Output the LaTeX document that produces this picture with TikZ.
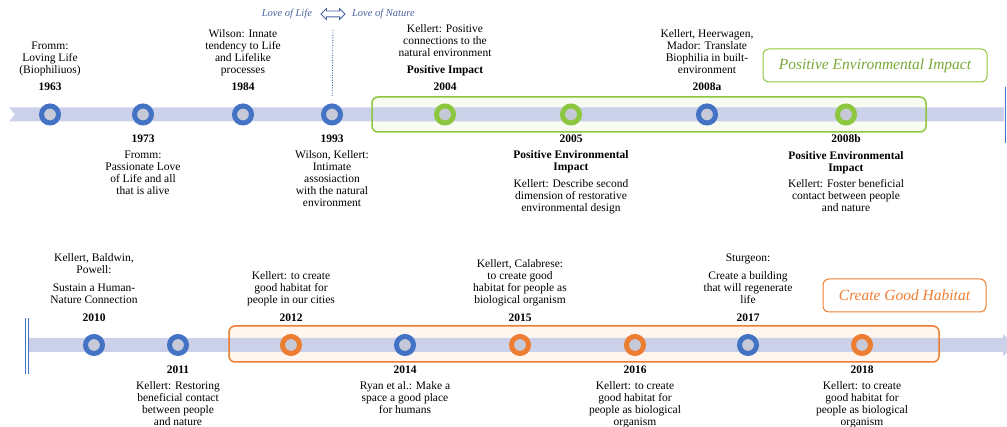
\documentclass[tikz,border=0pt]{standalone}
\usepackage{fontspec}
\setmainfont{Liberation Serif}
\usetikzlibrary{positioning,shapes.arrows}
\definecolor{bandcol}{RGB}{203,209,233}
\definecolor{ringblue}{RGB}{68,114,196}
\definecolor{ringgreen}{RGB}{141,198,63}
\definecolor{ringorange}{RGB}{237,125,49}
\definecolor{ringfill}{RGB}{197,201,216}
\definecolor{lovecol}{RGB}{72,98,160}
\definecolor{greenfill}{RGB}{247,251,242}
\definecolor{orangefill}{RGB}{254,246,239}
\newcommand{\notefont}{\fontsize{11.5}{12}\selectfont}
\tikzset{
  every picture/.style={
    line width=1pt
  },
  band/.style={fill=bandcol, draw=none},
  ring/.style={circle, draw=ringblue, line width=5pt, fill=ringfill, minimum size=17pt, inner sep=0pt},
  greenring/.style={ring, draw=ringgreen},
  orangering/.style={ring, draw=ringorange},
  year/.style={font=\notefont\bfseries, inner sep=0pt},
  note/.style={align=center, font=\notefont, inner sep=0pt, text depth=2.5pt},
  heading/.style={note, font=\notefont\bfseries},
  greenbox/.style={draw=ringgreen, line width=1.5pt, rounded corners=6pt},
  orangebox/.style={draw=ringorange, line width=1.5pt, rounded corners=6pt},
  legend/.style={draw, rounded corners=6pt, line width=1pt, inner sep=0pt, font=\fontsize{15.5}{18}\selectfont\itshape},
  lovetext/.style={text=lovecol, inner sep=0pt, font=\fontsize{10.5}{12}\selectfont\itshape},
  lovearrow/.style={double arrow, draw=lovecol, fill=white, line width=0.8pt, minimum height=24pt, minimum width=10pt, double arrow head extend=2.5pt, inner sep=2.5pt}
}
\begin{document}
\begin{tikzpicture}[x=1pt, y=1pt]
  \clip (0,0) rectangle (1007,427);
  % highlighted periods
  \fill[greenfill, rounded corners=6pt] (372,295) rectangle (926,330);
  \fill[orangefill, rounded corners=6pt] (229,65) rectangle (939,101);
  % time lines
  \fill[band] (9,319.5) -- (1004,319.5) -- (1004,305.5) -- (9,305.5) -- (15,312.5) -- cycle;
  \fill[band] (28,89) -- (1003,89) -- (1003,93) -- (1016,82) -- (1003,71) -- (1003,75) -- (28,75) -- cycle;
  \draw[ringblue] (1005,284) -- (1005,340);
  \draw[ringblue] (25,53) -- (25,109);
  \draw[ringblue] (28.5,53) -- (28.5,109);
  \draw[greenbox] (372,295) rectangle (926,330);
  \draw[orangebox] (229,65) rectangle (939,101);

  \node[legend, draw=ringgreen, text=ringgreen!85!black, minimum width=224pt, minimum height=33pt] (poslegend) at (875,361.5) {Positive Environmental Impact};
  \node[legend, draw=ringorange, text=ringorange, minimum width=163pt, minimum height=33pt] (habitatlegend) at (904.5,131.5) {Create Good Habitat};

  % first row
  \node[ring] (c1963) at (50,312.5) {};
  \node[ring] (c1973) at (143,312.5) {};
  \node[ring] (c1984) at (243,312.5) {};
  \node[ring] (c1993) at (332,312.5) {};
  \node[greenring] (c2004) at (445,312.5) {};
  \node[greenring] (c2005) at (571,312.5) {};
  \node[ring] (c2008a) at (707,312.5) {};
  \node[greenring] (c2008b) at (846,312.5) {};

  \node[year, above=12pt of c1963] (y1963) {1963};
  \node[note, above=6.5pt of y1963] (n1963) {Fromm:\\ Loving Life\\ (Biophiliuos)};
  \node[year, below=9pt of c1973] (y1973) {1973};
  \node[note, below=7pt of y1973] (n1973) {Fromm:\\ Passionate Love\\ of Life and all\\ that is alive};
  \node[year, above=12pt of c1984] (y1984) {1984};
  \node[note, above=6.5pt of y1984] (n1984) {Wilson: Innate\\ tendency to Life\\ and Lifelike\\ processes};
  \node[year, below=9pt of c1993] (y1993) {1993};
  \node[note, below=7pt of y1993] (n1993) {Wilson, Kellert:\\ Intimate\\ assosiaction\\ with the natural\\ environment};
  \node[year, above=12pt of c2004] (y2004) {2004};
  \node[heading, above=6.5pt of y2004] (h2004) {Positive Impact};
  \node[note, above=5.5pt of h2004] (n2004) {Kellert: Positive\\ connections to the\\ natural environment};
  \node[year, below=9pt of c2005] (y2005) {2005};
  \node[heading, below=7pt of y2005] (h2005) {Positive Environmental\\ Impact};
  \node[note, below=5pt of h2005] (n2005) {Kellert: Describe second\\ dimension of restorative\\ environmental design};
  \node[year, above=12pt of c2008a] (y2008a) {2008a};
  \node[note, above=6.5pt of y2008a] (n2008a) {Kellert, Heerwagen,\\ Mador: Translate\\ Biophilia in built-\\ environment};
  \node[year, below=9pt of c2008b] (y2008b) {2008b};
  \node[heading, below=7pt of y2008b] (h2008b) {Positive Environmental\\ Impact};
  \node[note, below=5pt of h2008b] (n2008b) {Kellert: Foster beneficial\\ contact between people\\ and nature};

  % love of life / love of nature
  \node[lovearrow] (love) at (333,413) {};
  \node[lovetext, left=8pt of love] (lovelife) {Love of Life};
  \node[lovetext, right=6pt of love] (lovenature) {Love of Nature};
  \coordinate (lovetop) at (333,397);
  \draw[ringblue!80!black, line width=0.9pt, dash pattern=on 1pt off 1.5pt, shorten >=6pt] (lovetop) -- (c1993);

  % second row
  \node[ring] (c2010) at (94,82) {};
  \node[ring] (c2011) at (178,82) {};
  \node[orangering] (c2012) at (291,82) {};
  \node[ring] (c2014) at (405,82) {};
  \node[orangering] (c2015) at (520,82) {};
  \node[orangering] (c2016) at (635,82) {};
  \node[ring] (c2017) at (748,82) {};
  \node[orangering] (c2018) at (862,82) {};

  \node[year, above=12pt of c2010] (y2010) {2010};
  \node[note, above=7pt of y2010] (n2010) {Sustain a Human-\\ Nature Connection};
  \node[note, above=6.5pt of n2010] (m2010) {Kellert, Baldwin,\\ Powell:};
  \node[year, below=9pt of c2011] (y2011) {2011};
  \node[note, below=7pt of y2011] (n2011) {Kellert: Restoring\\ beneficial contact\\ between  people\\ and nature};
  \node[year, above=12pt of c2012] (y2012) {2012};
  \node[note, above=7pt of y2012] (n2012) {Kellert: to create\\ good habitat for\\ people in our cities};
  \node[year, below=9pt of c2014] (y2014) {2014};
  \node[note, below=7pt of y2014] (n2014) {Ryan et al.: Make a\\ space a good place\\ for humans};
  \node[year, above=12pt of c2015] (y2015) {2015};
  \node[note, above=7pt of y2015] (n2015) {Kellert, Calabrese:\\ to create good\\ habitat for people as\\ biological organism};
  \node[year, below=9pt of c2016] (y2016) {2016};
  \node[note, below=7pt of y2016] (n2016) {Kellert: to create\\ good habitat for\\ people as biological\\ organism};
  \node[year, above=12pt of c2017] (y2017) {2017};
  \node[note, above=7pt of y2017] (n2017) {Create a building\\ that will regenerate\\ life};
  \node[note, above=6.5pt of n2017] (m2017) {Sturgeon:};
  \node[year, below=9pt of c2018] (y2018) {2018};
  \node[note, below=7pt of y2018] (n2018) {Kellert: to create\\ good habitat for\\ people as biological\\ organism};
\end{tikzpicture}
\end{document}
